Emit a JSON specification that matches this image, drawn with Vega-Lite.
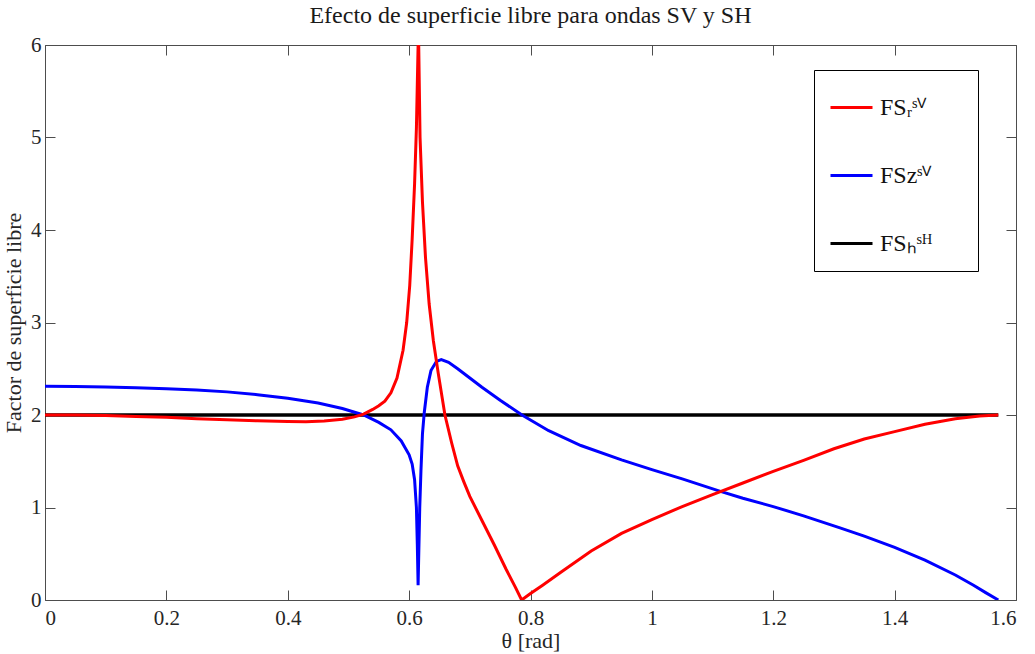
{
  "$schema": "https://vega.github.io/schema/vega-lite/v6.json",
  "width": 971,
  "height": 555,
  "autosize": {"type": "none"},
  "padding": {"left": 45, "top": 45, "right": 19, "bottom": 54},
  "background": "white",
  "title": {"text": "Efecto de superficie libre para ondas  SV y SH", "font": "Liberation Serif", "fontSize": 24, "fontWeight": "normal", "color": "#1a1a1a", "offset": 6, "anchor": "middle"},
  "config": {
    "view": {"stroke": "#4d4d4d", "strokeWidth": 1},
    "axis": {"labelFont": "Liberation Serif", "titleFont": "Liberation Serif", "labelFontSize": 21, "titleFontSize": 22, "titleFontWeight": "normal", "labelColor": "#262626", "titleColor": "#262626", "tickColor": "#4d4d4d", "tickSize": -10, "domain": false, "grid": false}
  },
  "data": {"values": [
    {"serie": "h", "theta": 0, "fs": 2},
    {"serie": "h", "theta": 1.5708, "fs": 2},
    {"serie": "z", "theta": 0, "fs": 2.31},
    {"serie": "z", "theta": 0.05, "fs": 2.308},
    {"serie": "z", "theta": 0.1, "fs": 2.303},
    {"serie": "z", "theta": 0.15, "fs": 2.295},
    {"serie": "z", "theta": 0.2, "fs": 2.285},
    {"serie": "z", "theta": 0.25, "fs": 2.27},
    {"serie": "z", "theta": 0.3, "fs": 2.25},
    {"serie": "z", "theta": 0.35, "fs": 2.22},
    {"serie": "z", "theta": 0.4, "fs": 2.18},
    {"serie": "z", "theta": 0.45, "fs": 2.13},
    {"serie": "z", "theta": 0.49, "fs": 2.07},
    {"serie": "z", "theta": 0.525, "fs": 2.0},
    {"serie": "z", "theta": 0.55, "fs": 1.92},
    {"serie": "z", "theta": 0.57, "fs": 1.84},
    {"serie": "z", "theta": 0.587, "fs": 1.72},
    {"serie": "z", "theta": 0.6, "fs": 1.57},
    {"serie": "z", "theta": 0.605, "fs": 1.47},
    {"serie": "z", "theta": 0.609, "fs": 1.3},
    {"serie": "z", "theta": 0.612, "fs": 1.0},
    {"serie": "z", "theta": 0.6135, "fs": 0.6},
    {"serie": "z", "theta": 0.6148, "fs": 0.16},
    {"serie": "z", "theta": 0.6162, "fs": 0.6},
    {"serie": "z", "theta": 0.6175, "fs": 1.0},
    {"serie": "z", "theta": 0.6195, "fs": 1.4},
    {"serie": "z", "theta": 0.622, "fs": 1.8},
    {"serie": "z", "theta": 0.625, "fs": 2.03},
    {"serie": "z", "theta": 0.63, "fs": 2.3},
    {"serie": "z", "theta": 0.636, "fs": 2.48},
    {"serie": "z", "theta": 0.645, "fs": 2.58},
    {"serie": "z", "theta": 0.653, "fs": 2.6},
    {"serie": "z", "theta": 0.665, "fs": 2.57},
    {"serie": "z", "theta": 0.68, "fs": 2.5},
    {"serie": "z", "theta": 0.7, "fs": 2.4},
    {"serie": "z", "theta": 0.72, "fs": 2.3},
    {"serie": "z", "theta": 0.75, "fs": 2.16},
    {"serie": "z", "theta": 0.786, "fs": 2.0},
    {"serie": "z", "theta": 0.83, "fs": 1.83},
    {"serie": "z", "theta": 0.883, "fs": 1.67},
    {"serie": "z", "theta": 0.95, "fs": 1.515},
    {"serie": "z", "theta": 1.0, "fs": 1.41},
    {"serie": "z", "theta": 1.05, "fs": 1.31},
    {"serie": "z", "theta": 1.113, "fs": 1.175},
    {"serie": "z", "theta": 1.15, "fs": 1.1},
    {"serie": "z", "theta": 1.2, "fs": 1.01},
    {"serie": "z", "theta": 1.25, "fs": 0.91},
    {"serie": "z", "theta": 1.31, "fs": 0.78},
    {"serie": "z", "theta": 1.35, "fs": 0.69},
    {"serie": "z", "theta": 1.4, "fs": 0.57},
    {"serie": "z", "theta": 1.45, "fs": 0.43},
    {"serie": "z", "theta": 1.5, "fs": 0.27},
    {"serie": "z", "theta": 1.53, "fs": 0.16},
    {"serie": "z", "theta": 1.55, "fs": 0.08},
    {"serie": "z", "theta": 1.5708, "fs": 0.0},
    {"serie": "r", "theta": 0, "fs": 2.0},
    {"serie": "r", "theta": 0.05, "fs": 1.999},
    {"serie": "r", "theta": 0.1, "fs": 1.995},
    {"serie": "r", "theta": 0.15, "fs": 1.985},
    {"serie": "r", "theta": 0.2, "fs": 1.975},
    {"serie": "r", "theta": 0.25, "fs": 1.96},
    {"serie": "r", "theta": 0.3, "fs": 1.948},
    {"serie": "r", "theta": 0.35, "fs": 1.937},
    {"serie": "r", "theta": 0.4, "fs": 1.93},
    {"serie": "r", "theta": 0.43, "fs": 1.928},
    {"serie": "r", "theta": 0.46, "fs": 1.935},
    {"serie": "r", "theta": 0.49, "fs": 1.955},
    {"serie": "r", "theta": 0.51, "fs": 1.98},
    {"serie": "r", "theta": 0.525, "fs": 2.01},
    {"serie": "r", "theta": 0.54, "fs": 2.06},
    {"serie": "r", "theta": 0.55, "fs": 2.1},
    {"serie": "r", "theta": 0.56, "fs": 2.15},
    {"serie": "r", "theta": 0.57, "fs": 2.24},
    {"serie": "r", "theta": 0.58, "fs": 2.4},
    {"serie": "r", "theta": 0.59, "fs": 2.7},
    {"serie": "r", "theta": 0.596, "fs": 3.0},
    {"serie": "r", "theta": 0.601, "fs": 3.4},
    {"serie": "r", "theta": 0.605, "fs": 3.9},
    {"serie": "r", "theta": 0.609, "fs": 4.5},
    {"serie": "r", "theta": 0.612, "fs": 5.1},
    {"serie": "r", "theta": 0.6148, "fs": 6.0},
    {"serie": "r", "theta": 0.6158, "fs": 6.0},
    {"serie": "r", "theta": 0.618, "fs": 5.0},
    {"serie": "r", "theta": 0.622, "fs": 4.3},
    {"serie": "r", "theta": 0.627, "fs": 3.7},
    {"serie": "r", "theta": 0.633, "fs": 3.2},
    {"serie": "r", "theta": 0.64, "fs": 2.8},
    {"serie": "r", "theta": 0.648, "fs": 2.45},
    {"serie": "r", "theta": 0.659, "fs": 2.0},
    {"serie": "r", "theta": 0.67, "fs": 1.7},
    {"serie": "r", "theta": 0.68, "fs": 1.45},
    {"serie": "r", "theta": 0.69, "fs": 1.28},
    {"serie": "r", "theta": 0.7, "fs": 1.12},
    {"serie": "r", "theta": 0.72, "fs": 0.86},
    {"serie": "r", "theta": 0.74, "fs": 0.6},
    {"serie": "r", "theta": 0.76, "fs": 0.33},
    {"serie": "r", "theta": 0.775, "fs": 0.14},
    {"serie": "r", "theta": 0.7854, "fs": 0.0},
    {"serie": "r", "theta": 0.8, "fs": 0.07},
    {"serie": "r", "theta": 0.82, "fs": 0.16},
    {"serie": "r", "theta": 0.85, "fs": 0.3},
    {"serie": "r", "theta": 0.9, "fs": 0.53},
    {"serie": "r", "theta": 0.95, "fs": 0.72},
    {"serie": "r", "theta": 1.0, "fs": 0.87},
    {"serie": "r", "theta": 1.05, "fs": 1.01},
    {"serie": "r", "theta": 1.1, "fs": 1.14},
    {"serie": "r", "theta": 1.15, "fs": 1.265},
    {"serie": "r", "theta": 1.2, "fs": 1.39},
    {"serie": "r", "theta": 1.25, "fs": 1.51},
    {"serie": "r", "theta": 1.3, "fs": 1.635},
    {"serie": "r", "theta": 1.35, "fs": 1.74},
    {"serie": "r", "theta": 1.4, "fs": 1.82},
    {"serie": "r", "theta": 1.45, "fs": 1.9},
    {"serie": "r", "theta": 1.5, "fs": 1.96},
    {"serie": "r", "theta": 1.54, "fs": 1.99},
    {"serie": "r", "theta": 1.5708, "fs": 2.0}
  ]},
  "layer": [
    {
      "transform": [{"filter": "datum.serie === 'h'"}],
      "mark": {"type": "line", "strokeWidth": 3.4, "clip": true},
      "encoding": {
        "x": {"field": "theta", "type": "quantitative", "scale": {"domain": [0, 1.6], "nice": false, "zero": false},
              "axis": {"orient": "top", "labels": false, "title": null, "values": [0, 0.2, 0.4, 0.6, 0.8, 1, 1.2, 1.4, 1.6]}},
        "y": {"field": "fs", "type": "quantitative", "scale": {"domain": [0, 6], "nice": false, "zero": false},
              "axis": {"orient": "right", "labels": false, "title": null, "values": [0, 1, 2, 3, 4, 5, 6]}},
        "color": {"field": "serie", "type": "nominal",
                  "scale": {"domain": ["r", "z", "h"], "range": ["#ff0000", "#0000ff", "#000000"]},
                  "legend": {"orient": "none", "legendX": 769, "legendY": 25, "title": null,
                             "symbolType": "stroke", "symbolSize": 1764, "symbolStrokeWidth": 3,
                             "labelFont": "Liberation Serif", "labelFontSize": 24, "labelColor": "#111111",
                             "labelOffset": 6, "rowPadding": 33, "padding": 15,
                             "strokeColor": "#000000", "fillColor": "white",
                             "labelExpr": "datum.label === 'r' ? 'FSᵣˢⱽ⠀⠀' : datum.label === 'z' ? 'FSzˢⱽ' : 'FSₕˢᴴ'"}}
      }
    },
    {
      "transform": [{"filter": "datum.serie === 'z'"}],
      "mark": {"type": "line", "strokeWidth": 3, "clip": true},
      "encoding": {
        "x": {"field": "theta", "type": "quantitative",
              "axis": {"orient": "bottom", "title": "θ [rad]", "format": "~g", "labelPadding": 17, "titlePadding": 2, "values": [0, 0.2, 0.4, 0.6, 0.8, 1, 1.2, 1.4, 1.6]}},
        "y": {"field": "fs", "type": "quantitative",
              "axis": {"orient": "left", "title": "Factor de superficie libre", "format": "d", "labelPadding": 14, "titlePadding": 5, "values": [0, 1, 2, 3, 4, 5, 6]}},
        "color": {"field": "serie", "type": "nominal"}
      }
    },
    {
      "transform": [{"filter": "datum.serie === 'r'"}],
      "mark": {"type": "line", "strokeWidth": 3, "clip": true},
      "encoding": {
        "x": {"field": "theta", "type": "quantitative", "axis": null},
        "y": {"field": "fs", "type": "quantitative", "axis": null},
        "color": {"field": "serie", "type": "nominal"}
      }
    }
  ],
  "resolve": {"axis": {"x": "independent", "y": "independent"}}
}
